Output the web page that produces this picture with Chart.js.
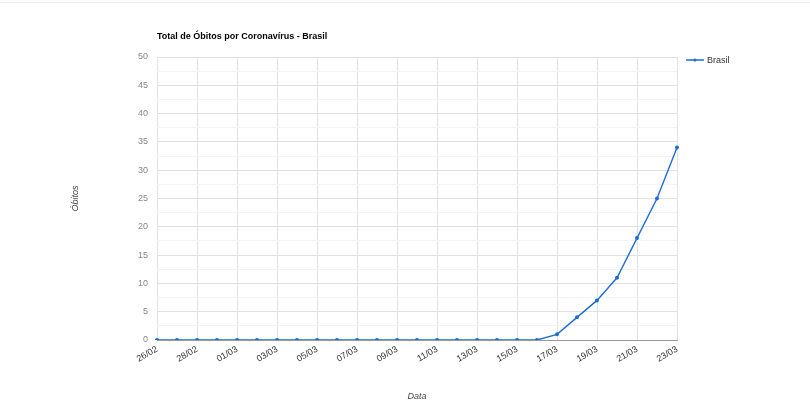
<!DOCTYPE html>
<html>
<head>
<meta charset="utf-8">
<script src="https://cdn.jsdelivr.net/npm/chart.js@4"></script>
<style>
    body { margin: 0; background: #fff; }
    #topline { position: absolute; left: 0; top: 2px; width: 810px; height: 1px; background: #ececec; }
    #wrap { position: absolute; left: 0; top: 0; width: 810px; height: 410px; }
</style>
</head>
<body>
<div id="topline"></div>
<div id="wrap"><canvas id="chart" width="810" height="410"></canvas></div>
<script>
// dates shown on the x axis (one point per day)
const dates = [
    "26/02", "27/02", "28/02", "29/02", "01/03", "02/03", "03/03", "04/03", "05/03",
    "06/03", "07/03", "08/03", "09/03", "10/03", "11/03", "12/03", "13/03", "14/03",
    "15/03", "16/03", "17/03", "18/03", "19/03", "20/03", "21/03", "22/03", "23/03"
];
// total deaths per day
const obitos = [
    0, 0, 0, 0, 0, 0, 0, 0, 0,
    0, 0, 0, 0, 0, 0, 0, 0, 0,
    0, 0, 1, 4, 7, 11, 18, 25, 34
];
const seriesName = "Brasil";
const yTicks = [0, 5, 10, 15, 20, 25, 30, 35, 40, 45, 50];

const lineColor = "#1c6dd8";
const fontFamily = "Arial, 'Liberation Sans', sans-serif";

// Legend drawn to the right of the plot, like the original
const sideLegend = {
    id: "sideLegend",
    afterDraw(chart) {
        const ctx = chart.ctx;
        const ds = chart.data.datasets[0];
        const x = chart.chartArea.right + 9;
        const y = 60;
        ctx.save();
        ctx.strokeStyle = ds.borderColor;
        ctx.lineWidth = 1.5;
        ctx.beginPath();
        ctx.moveTo(x, y);
        ctx.lineTo(x + 18, y);
        ctx.stroke();
        ctx.fillStyle = ds.borderColor;
        ctx.beginPath();
        ctx.arc(x + 9, y, 1.6, 0, Math.PI * 2);
        ctx.fill();
        ctx.fillStyle = "#333";
        ctx.font = "9px " + fontFamily;
        ctx.textBaseline = "middle";
        ctx.fillText(ds.label, x + 21, y + 0.5);
        ctx.restore();
    }
};

const ctx = document.getElementById("chart").getContext("2d");
new Chart(ctx, {
    type: "line",
    data: {
        labels: dates,
        datasets: [{
            label: seriesName,
            data: obitos,
            borderColor: lineColor,
            backgroundColor: lineColor,
            borderWidth: 1.4,
            pointRadius: 1.3,
            pointHoverRadius: 2.5,
            tension: 0
        }]
    },
    options: {
        responsive: false,
        animation: false,
        devicePixelRatio: 1,
        layout: { padding: { left: 0, right: 133, top: 0, bottom: 0 } },
        plugins: {
            legend: { display: false },
            tooltip: { enabled: false },
            title: {
                display: true,
                text: "Total de Óbitos por Coronavírus - Brasil",
                align: "start",
                fullSize: false,
                color: "#000",
                font: { family: fontFamily, size: 9, weight: "bold" },
                padding: { top: 31.6, bottom: 14.6 }
            }
        },
        scales: {
            x: {
                offset: false,
                afterFit: scale => { scale.height = 70; },
                border: { display: true, color: "#999", width: 1 },
                grid: {
                    drawTicks: false,
                    color: c => (c.index % 2 === 0 ? "#e3e3e3" : "rgba(0,0,0,0)")
                },
                ticks: {
                    autoSkip: false,
                    minRotation: 30,
                    maxRotation: 30,
                    padding: 4,
                    color: "#333",
                    font: { family: fontFamily, size: 9 },
                    callback: (val, i) => (i % 2 === 0 ? dates[i] : "")
                },
                title: {
                    display: true,
                    text: "Data",
                    color: "#444",
                    font: { family: fontFamily, size: 9, style: "italic" },
                    padding: { top: 0, bottom: 8.6 }
                }
            },
            y: {
                min: 0,
                max: 50,
                afterFit: scale => { scale.width = 157; },
                border: { display: false },
                grid: {
                    drawTicks: false,
                    color: c => (yTicks.includes(c.tick.value) ? "#e0e0e0" : "#f3f3f3")
                },
                ticks: {
                    stepSize: 2.5,
                    padding: 9,
                    color: "#888",
                    font: { family: fontFamily, size: 9 },
                    callback: v => (yTicks.includes(v) ? v : "")
                },
                title: {
                    display: true,
                    text: "Óbitos",
                    color: "#444",
                    font: { family: fontFamily, size: 9, style: "italic" },
                    padding: { top: 69.6, bottom: 0 }
                }
            }
        }
    },
    plugins: [sideLegend]
});
</script>
</body>
</html>
